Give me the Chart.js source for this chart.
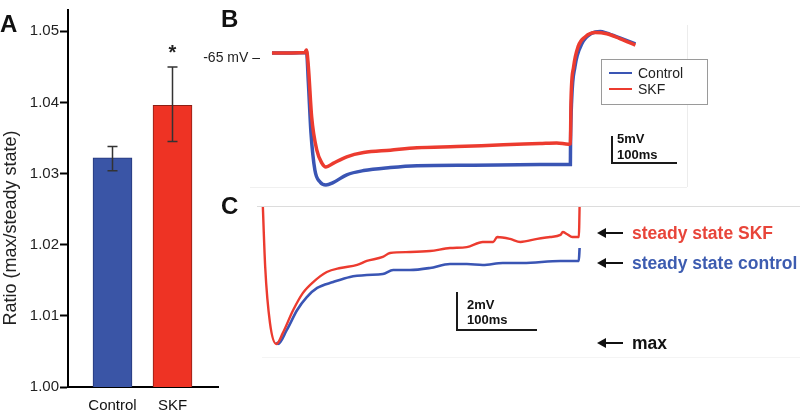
<!DOCTYPE html>
<html>
<head>
<meta charset="utf-8">
<script src="https://cdn.jsdelivr.net/npm/chart.js@4.4.1/dist/chart.umd.min.js"></script>
<style>
body { margin:0; background:#fff; font-family:"Liberation Sans", Arial, sans-serif; }
#wrap { position:relative; width:800px; height:416px; overflow:hidden; }
canvas, .t, .ln { position:absolute; }
.t { line-height:1; white-space:nowrap; color:#111; }
.ln { background:#1a1a1a; }
.panel { font-weight:bold; font-size:24px; }
.sb { font-weight:bold; font-size:13px; }
.ann { font-weight:bold; font-size:17.5px; }
.arrow { position:absolute; height:2px; background:#111; }
.arrow:before { content:""; position:absolute; left:-2px; top:-4px; border-top:5px solid transparent; border-bottom:5px solid transparent; border-right:9px solid #111; }
</style>
</head>
<body>
<div id="wrap">
  <canvas id="barChart" width="222" height="416" style="left:0;top:0"></canvas>
  <canvas id="traceB" width="440" height="200" style="left:250px;top:0"></canvas>
  <canvas id="traceC" width="340" height="150" style="left:250px;top:206px"></canvas>

  <!-- faint frames -->
  <div class="ln" style="left:687px;top:25px;width:1px;height:162px;background:#ececec"></div>
  <div class="ln" style="left:250px;top:187px;width:437px;height:1px;background:#f0f0f0"></div>
  <div class="ln" style="left:257px;top:206px;width:543px;height:1px;background:#dcdcdc"></div>
  <div class="ln" style="left:262px;top:357px;width:538px;height:1px;background:#f4f4f4"></div>

  <div class="t panel" style="left:0;top:12px">A</div>
  <div class="t panel" style="left:221px;top:7px">B</div>
  <div class="t panel" style="left:221px;top:194px">C</div>

  <div class="t" style="left:10px;top:228px;font-size:18px;color:#222;transform:translate(-50%,-50%) rotate(-90deg)">Ratio (max/steady state)</div>

  <div class="t" style="right:540px;top:50px;font-size:14px;color:#222">-65 mV –</div>

  <!-- legend B -->
  <div style="position:absolute;left:601px;top:59px;width:105px;height:44px;border:1px solid #9a9a9a;background:#fff"></div>
  <div class="ln" style="left:609px;top:72px;width:23px;height:2px;background:#3a55b4"></div>
  <div class="ln" style="left:609px;top:88px;width:23px;height:2px;background:#ec3b2f"></div>
  <div class="t" style="left:638px;top:66px;font-size:14px;color:#222">Control</div>
  <div class="t" style="left:638px;top:82px;font-size:14px;color:#222">SKF</div>

  <!-- scale bar B -->
  <div class="ln" style="left:611px;top:136px;width:2px;height:28px"></div>
  <div class="ln" style="left:611px;top:162px;width:66px;height:2px"></div>
  <div class="t sb" style="left:617px;top:132px">5mV</div>
  <div class="t sb" style="left:617px;top:148px">100ms</div>

  <!-- scale bar C -->
  <div class="ln" style="left:456px;top:292px;width:2px;height:39px"></div>
  <div class="ln" style="left:456px;top:329px;width:81px;height:2px"></div>
  <div class="t sb" style="left:467px;top:298px">2mV</div>
  <div class="t sb" style="left:467px;top:313px">100ms</div>

  <!-- annotations C -->
  <div class="arrow" style="left:599px;top:232px;width:24px"></div>
  <div class="arrow" style="left:599px;top:262px;width:24px"></div>
  <div class="arrow" style="left:599px;top:342px;width:24px"></div>
  <div class="t ann" style="left:632px;top:225px;color:#e8453a">steady state SKF</div>
  <div class="t ann" style="left:632px;top:255px;color:#3d5cb0">steady state control</div>
  <div class="t ann" style="left:632px;top:335px;color:#111">max</div>
</div>
<script>
// panel A: ratio max / steady state
var categories = ['Control', 'SKF'];
var ratioMean = [1.0322, 1.0396];
var ratioErrLow = [1.0304, 1.0345];
var ratioErrHigh = [1.0338, 1.0450];
var significance = ['', '*'];
var ratioTicks = [1.00, 1.01, 1.02, 1.03, 1.04, 1.05];

// panel B: full traces (ms, mV)
var bTimeSKF = [0, 51, 53, 56, 61, 69, 77, 83, 94, 115, 141, 182, 223, 284, 356, 412, 438, 456, 459, 460, 464, 471, 482, 497, 515, 535, 559];
var bSKF = [-65, -64.9, -64.5, -67.3, -75.6, -81.2, -83.4, -84.0, -83.4, -82.3, -81.6, -81.2, -80.8, -80.6, -80.3, -80.1, -80.0, -80.2, -80.1, -72.8, -67.3, -63.9, -62.3, -61.6, -61.8, -62.6, -63.7];
var bTimeCtl = [0, 51, 53, 56, 60, 66, 74, 83, 94, 115, 141, 182, 223, 310, 412, 459, 459.2, 461, 466, 477, 492, 505, 515, 535, 559];
var bCtl = [-65, -64.9, -64.6, -70, -78.3, -84.5, -86.5, -87.0, -86.6, -85.3, -84.6, -84.1, -83.8, -83.7, -83.6, -83.6, -80.6, -72.8, -67.3, -63.4, -61.7, -61.4, -61.7, -62.5, -63.5];

// panel C: zoom on the hyperpolarisation (ms, mV from max)
var cTimeSKF = [0, 4, 10, 18, 26, 39, 51, 64, 81, 98, 119, 131, 151, 160, 185, 210, 235, 256, 276, 289, 294, 310, 323, 344, 360, 373, 376, 381, 388, 396, 397, 397.5];
var cSKF = [8.5, 4.05, 1.1, 0, 0.58, 1.79, 2.68, 3.26, 3.79, 4.0, 4.16, 4.37, 4.58, 4.79, 4.84, 4.89, 5.05, 5.1, 5.37, 5.37, 5.63, 5.53, 5.37, 5.53, 5.63, 5.74, 5.89, 5.79, 5.63, 5.63, 7.3, 9];
var cTimeCtl = [18, 20, 31, 44, 56, 69, 89, 110, 131, 151, 164, 185, 210, 235, 256, 276, 301, 326, 373, 396, 397];
var cCtl = [0.1, 0, 0.74, 1.79, 2.47, 2.95, 3.26, 3.53, 3.63, 3.68, 3.89, 3.89, 4.0, 4.21, 4.21, 4.16, 4.26, 4.26, 4.37, 4.37, 5.05];

var blueBar = '#3a55a6', redBar = '#ee3324';
var blueTrace = '#3a55b4', redTrace = '#ec3b2f';

function pts(xs, ys) {
	return xs.map(function (x, i) { return { x: x, y: ys[i] }; });
}

var errorBars = {
	id: 'errorBars',
	afterDatasetsDraw: function (chart) {
		var ctx = chart.ctx, xs = chart.scales.x, ys = chart.scales.y;
		ctx.save();
		ctx.strokeStyle = '#333';
		ctx.lineWidth = 1.5;
		for (var i = 0; i < categories.length; i++) {
			var x = xs.getPixelForValue(i + 1);
			var lo = ys.getPixelForValue(ratioErrLow[i]);
			var hi = ys.getPixelForValue(ratioErrHigh[i]);
			ctx.beginPath();
			ctx.moveTo(x, lo); ctx.lineTo(x, hi);
			ctx.moveTo(x - 5, lo); ctx.lineTo(x + 5, lo);
			ctx.moveTo(x - 5, hi); ctx.lineTo(x + 5, hi);
			ctx.stroke();
			if (significance[i]) {
				ctx.fillStyle = '#222';
				ctx.font = 'bold 20px "Liberation Sans", Arial';
				ctx.textAlign = 'center';
				ctx.textBaseline = 'alphabetic';
				ctx.fillText(significance[i], x, hi - 8);
			}
		}
		ctx.restore();
	}
};

new Chart(document.getElementById('barChart'), {
	type: 'bar',
	data: {
		datasets: [{
			data: pts([1, 2], ratioMean),
			backgroundColor: [blueBar, redBar],
			borderColor: ['#24367a', '#8c1f15'],
			borderWidth: 1,
			barThickness: 39
		}]
	},
	options: {
		responsive: false,
		animation: false,
		layout: { padding: { top: 3, right: 4, left: 0, bottom: 0 } },
		plugins: { legend: { display: false }, tooltip: { enabled: false } },
		scales: {
			x: {
				type: 'linear', min: 0.2583, max: 2.7583, offset: false,
				afterBuildTicks: function (s) { s.ticks = [{ value: 1 }, { value: 2 }]; },
				afterFit: function (s) { s.height = 29; },
				border: { color: '#000', width: 2 },
				grid: { drawOnChartArea: false, drawTicks: false, offset: false },
				ticks: {
					padding: 10, color: '#111', font: { size: 15, family: '"Liberation Sans", Arial' },
					callback: function (v) { return categories[v - 1]; }
				}
			},
			y: {
				min: 1.0, max: 1.053,
				afterBuildTicks: function (s) { s.ticks = ratioTicks.map(function (v) { return { value: v }; }); },
				afterFit: function (s) { s.width = 68; },
				border: { color: '#000', width: 2 },
				grid: { drawOnChartArea: false, drawTicks: true, tickLength: 8, tickWidth: 2, tickColor: '#000' },
				ticks: {
					padding: 1, color: '#222', font: { size: 15, family: '"Liberation Sans", Arial' },
					callback: function (v) { return v.toFixed(2); }
				}
			}
		}
	},
	plugins: [errorBars]
});

function traceOptions(xmin, xmax, ymin, ymax) {
	return {
		responsive: false,
		animation: false,
		layout: { padding: 0 },
		plugins: { legend: { display: false }, tooltip: { enabled: false } },
		elements: { point: { radius: 0 }, line: { cubicInterpolationMode: 'monotone' } },
		scales: {
			x: { type: 'linear', display: false, min: xmin, max: xmax },
			y: { type: 'linear', display: false, min: ymin, max: ymax }
		}
	};
}

new Chart(document.getElementById('traceB'), {
	type: 'line',
	data: {
		datasets: [
			{ label: 'SKF', data: pts(bTimeSKF, bSKF), borderColor: redTrace, borderWidth: 3.5, order: 0, clip: 0 },
			{ label: 'Control', data: pts(bTimeCtl, bCtl), borderColor: blueTrace, borderWidth: 3.5, order: 1, clip: 0 }
		]
	},
	options: traceOptions(-33.8, 643, -89.5, -56.17)
});

new Chart(document.getElementById('traceC'), {
	type: 'line',
	data: {
		datasets: [
			{ label: 'SKF', data: pts(cTimeSKF, cSKF), borderColor: redTrace, borderWidth: 2.4, order: 0, clip: 0 },
			{ label: 'Control', data: pts(cTimeCtl, cCtl), borderColor: blueTrace, borderWidth: 2.6, order: 1, clip: 0 }
		]
	},
	options: traceOptions(-15, 410, -0.63, 7.26)
});
</script>
</body>
</html>
